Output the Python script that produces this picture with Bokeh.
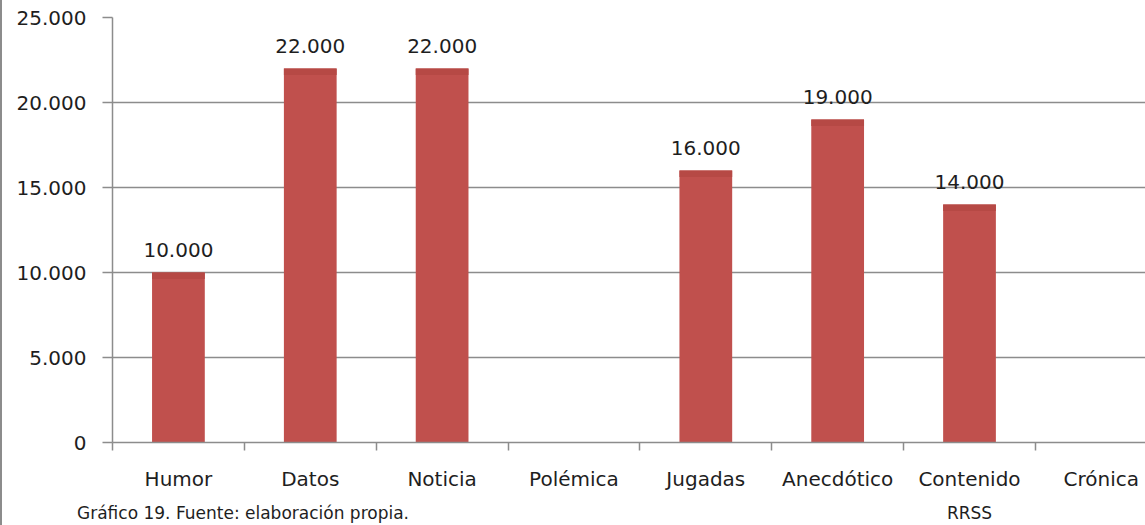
from bokeh.plotting import figure
from bokeh.models import Range1d, FixedTicker, ColumnDataSource, LabelSet, LinearAxis
from bokeh.core.properties import value
from bokeh.embed import file_html
from bokeh.resources import INLINE

categories = ["Humor", "Datos", "Noticia", "Polémica", "Jugadas", "Anecdótico", "Contenido RRSS", "Crónica"]
values = [10000, 22000, 22000, 0, 16000, 19000, 14000, 0]
y_ticks = [0, 5000, 10000, 15000, 20000, 25000]
y_tick_labels = ["0", "5.000", "10.000", "15.000", "20.000", "25.000"]
caption = "Gráfico 19. Fuente: elaboración propia."

FONT = "DejaVu Sans"
TXT = "#1e1e1e"
BAR = "#c0504d"
BAR_TOP = "#b64945"
GRID = "#8c8c8c"
CAPTION_POS = 0.99  # horizontal placement of the caption (x units)

centers = [i + 0.5 for i in range(len(categories))]
labels = [f"{v:,}".replace(",", ".") if v > 0 else "" for v in values]
first_line = [c.split(" ", 1)[0] for c in categories]
second_line = [c.split(" ", 1)[1] if " " in c else "" for c in categories]

src = ColumnDataSource(dict(x=centers, top=values, band=[max(v - 380, 0) for v in values], lab=labels))

p = figure(width=1145, height=525, output_backend="svg", toolbar_location=None,
           x_range=Range1d(0, 7.85), y_range=Range1d(0, 25000),
           min_border_left=110, min_border_right=0, min_border_top=17, min_border_bottom=82)
p.outline_line_color = None
p.background_fill_color = "white"
p.border_fill_color = "white"

p.vbar(x="x", top="top", bottom=0, width=0.40, source=src, fill_color=BAR, line_color=None)
p.vbar(x="x", top="top", bottom="band", width=0.40, source=src, fill_color=BAR_TOP, line_color=None)

ls = LabelSet(x="x", y="top", text="lab", source=src, text_align="center", text_baseline="alphabetic",
              y_offset=16, text_font=value(FONT), text_font_size="20px", text_color=TXT)
p.add_layout(ls)

p.xgrid.grid_line_color = None
p.ygrid.grid_line_color = GRID
p.ygrid.grid_line_width = 1.5
p.ygrid.ticker = FixedTicker(ticks=y_ticks)

p.yaxis.ticker = FixedTicker(ticks=y_ticks)
p.yaxis.major_label_overrides = {t: l for t, l in zip(y_ticks, y_tick_labels)}
p.yaxis.axis_line_color = GRID
p.yaxis.axis_line_width = 1.5
p.yaxis.major_tick_line_color = GRID
p.yaxis.major_tick_line_width = 1.5
p.yaxis.major_tick_out = 10
p.yaxis.major_tick_in = 0
p.yaxis.minor_tick_line_color = None
p.yaxis.major_label_standoff = 16
p.yaxis.major_label_text_font = FONT
p.yaxis.major_label_text_font_size = "20px"
p.yaxis.major_label_text_color = TXT

xa = p.xaxis[0]
xa.ticker = FixedTicker(ticks=centers, minor_ticks=list(range(len(categories) + 1)))
xa.major_label_overrides = {c: l for c, l in zip(centers, first_line)}
xa.axis_line_color = GRID
xa.axis_line_width = 1.5
xa.major_tick_line_color = None
xa.minor_tick_line_color = GRID
xa.minor_tick_line_width = 1.5
xa.minor_tick_out = 8
xa.minor_tick_in = 0
xa.major_label_standoff = 16
xa.major_label_text_font = FONT
xa.major_label_text_font_size = "20px"
xa.major_label_text_color = TXT

# second row: wrapped category words and the source caption
row2 = {c: l for c, l in zip(centers, second_line) if l}
row2[CAPTION_POS] = caption
ax2 = LinearAxis(ticker=FixedTicker(ticks=sorted(row2)), major_label_overrides=row2)
ax2.axis_line_color = None
ax2.major_tick_line_color = None
ax2.major_tick_out = 0
ax2.major_tick_in = 0
ax2.minor_tick_line_color = None
ax2.minor_tick_out = 0
ax2.minor_tick_in = 0
ax2.major_label_standoff = 9
ax2.major_label_text_font = FONT
ax2.major_label_text_font_size = "17px"
ax2.major_label_text_color = TXT
p.add_layout(ax2, "below")

p.styles = {"border-left": "2px solid #8c8c8c", "box-sizing": "border-box"}

open("out.html", "w").write(file_html(p, INLINE))
